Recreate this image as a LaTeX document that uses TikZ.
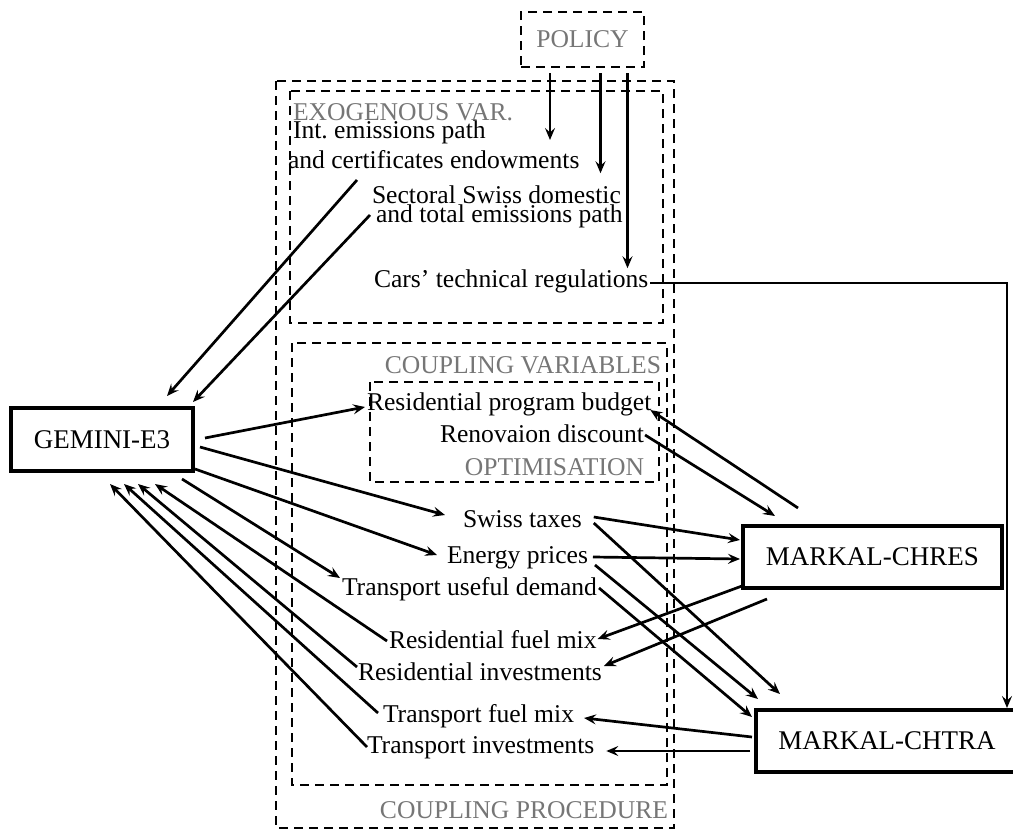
\documentclass[tikz,border=0pt]{standalone}
\usepackage{fontspec}
\setmainfont{Liberation Serif}
\usetikzlibrary{arrows.meta,calc}
\definecolor{labelgray}{RGB}{118,118,118}
\begin{document}
\begin{tikzpicture}[x=1pt,y=-1pt,
  every node/.style={font=\fontsize{25.6}{30}\selectfont},
  lbl/.style={inner sep=0pt, outer sep=0pt, anchor=base west},
  glbl/.style={inner sep=0pt, outer sep=0pt, text=labelgray},
  model/.style={draw, line width=3.2pt, inner sep=0pt, outer sep=0pt, minimum height=62pt,
    font=\fontsize{27}{30}\selectfont},
  dashbox/.style={draw, line width=2.3pt, dash pattern=on 9pt off 6pt},
  arr/.style={line width=2.7pt, -{Stealth[length=12pt,width=10pt,inset=4.5pt]}}]
\useasboundingbox (0,0) rectangle (1013,830);

% dashed containers
\draw[dashbox] (276,81) rectangle (674,828);
\draw[dashbox] (290,91) rectangle (663,323);
\draw[dashbox] (292,343) rectangle (667,785);
\draw[dashbox] (370,382) rectangle (659,482);

\node[dashbox, glbl, minimum width=123pt, minimum height=55pt] (pol) at (582.5,39.5) {POLICY};
\node[glbl, anchor=base west] (exo) at (293,120) {EXOGENOUS VAR.};
\node[glbl, anchor=base east] (cvar) at (661,373) {COUPLING VARIABLES};
\node[glbl, anchor=base east] (opt) at (644,475) {OPTIMISATION};
\node[glbl, anchor=base east] (cproc) at (668,818) {COUPLING PROCEDURE};

% models
\node[model, minimum width=182pt, minimum height=63pt] (gem) at (102,439.5) {GEMINI-E3};
\node[model, minimum width=259pt] (chres) at (872.5,557) {MARKAL-CHRES};
\node[model, minimum width=262pt] (chtra) at (887,741) {MARKAL-CHTRA};

% text nodes
\node[lbl] (int1) at (293,138) {Int.\ emissions path};
\node[lbl] (int2) at (288,168) {and certificates endowments};
\node[lbl] (sec1) at (372,203) {Sectoral Swiss domestic};
\node[lbl] (sec2) at (376,222) {and total emissions path};
\node[lbl] (cars) at (374,287) {Cars’ technical regulations};
\node[lbl] (rpb) at (367,410) {Residential program budget};
\node[lbl] (ren) at (440,442) {Renovaion discount};
\node[lbl] (swt) at (463,527) {Swiss taxes};
\node[lbl] (enp) at (447,563) {Energy prices};
\node[lbl] (tud) at (342,595) {Transport useful demand};
\node[lbl] (rfm) at (389,648) {Residential fuel mix};
\node[lbl] (rin) at (358,680) {Residential investments};
\node[lbl] (tfm) at (383,722) {Transport fuel mix};
\node[lbl] (tin) at (367,753) {Transport investments};

% policy arrows
\draw[arr, shorten >=10pt] ($(pol.south)+(-32.5,6)$) coordinate (pa) -- (pa |- int2.north);
\draw[arr, shorten >=12pt] ($(pol.south)+(18,6)$) coordinate (pb) -- (pb |- sec1.north);
\draw[arr, shorten >=1pt] ($(pol.south)+(45,6)$) coordinate (pc) -- (pc |- cars.north);

% cars regulations to CHTRA
\draw[arr] ($(cars.base east)+(2,-4)$) -| ($(chtra.north west)+(251,-2)$);

% exogenous to GEMINI
\draw[arr] ($(int2.base west)+(69,12)$) -- ($(gem.north east)+(-26,-12)$);
\draw[arr] ($(sec2.base west)+(-6,-7)$) -- ($(gem.north east)+(0,-6)$);

% GEMINI outputs
\draw[arr] ($(gem.east)+(12,-1.5)$) -- ($(rpb.base west)+(-2,-3)$);
\draw[arr] ($(gem.east)+(7,7.5)$) -- ($(swt.base west)+(-18,-12)$);
\draw[arr] ($(gem.east)+(2,29.5)$) -- ($(enp.base west)+(-10,-8)$);
\draw[arr] ($(gem.east)+(-11,39.5)$) -- ($(tud.base west)+(-2,-17)$);

% inputs to GEMINI
\draw[arr] ($(rfm.base west)+(-2,-7)$) -- ($(gem.east)+(-38,44.5)$);
\draw[arr] ($(rin.base west)+(-1,-13)$) -- ($(gem.east)+(-55,44.5)$);
\draw[arr] ($(tfm.base west)+(-5,-9)$) -- ($(gem.east)+(-69,44.5)$);
\draw[arr] ($(tin.base west)+(0,-6)$) -- ($(gem.east)+(-83,44.5)$);

% MARKAL-CHRES links
\draw[arr] ($(chres.north)+(-74.5,-18)$) -- ($(rpb.base east)+(-1,0)$);
\draw[arr] ($(ren.base east)+(1,-7)$) -- ($(chres.north)+(-97.5,-10)$);
\draw[arr] ($(swt.base east)+(12,-10)$) -- ($(chres.west)+(-3,-17)$);
\draw[arr] ($(enp.base east)+(5,-6)$) -- ($(chres.west)+(-3,2)$);
\draw[arr] ($(chres.south west)+(-1,-2)$) -- ($(rfm.base east)+(1,-9)$);
\draw[arr] ($(chres.south west)+(24,11)$) -- ($(rin.base east)+(2,-14)$);

% MARKAL-CHTRA links
\draw[arr] ($(swt.base east)+(12,-4)$) -- ($(chtra.north west)+(24,-16)$);
\draw[arr] ($(enp.base east)+(7,2)$) -- ($(chtra.north west)+(2,-11)$);
\draw[arr] ($(tud.base east)+(2,-7)$) -- ($(chtra.north west)+(-4,7)$);
\draw[arr] ($(chtra.west)+(-4,-4)$) -- ($(tfm.base east)+(10,-4)$);
\draw[arr] ($(chtra.west)+(-6,10)$) -- ($(tin.base east)+(12,-2)$);
\end{tikzpicture}
\end{document}
